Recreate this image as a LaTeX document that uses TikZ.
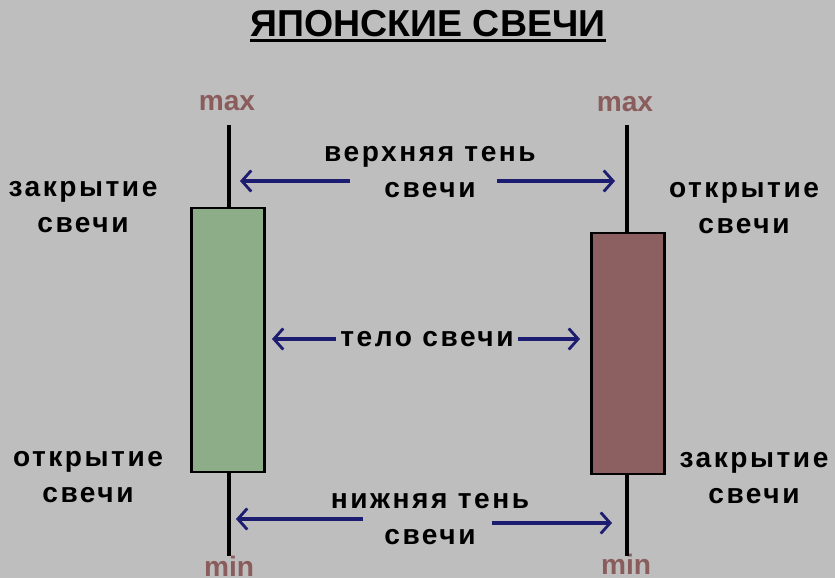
\documentclass[tikz,border=0pt]{standalone}
\usepackage{fontspec}
\setmainfont{Liberation Sans}
\usetikzlibrary{arrows.meta,positioning}
\definecolor{bgGray}{RGB}{190,190,190}
\definecolor{bullGreen}{RGB}{141,173,136}
\definecolor{bearRed}{RGB}{140,96,96}
\definecolor{extColor}{RGB}{138,92,92}
\definecolor{arrowBlue}{RGB}{28,28,112}

\tikzset{
  lbl/.style={font=\bfseries\fontsize{24}{30}\selectfont\addfontfeatures{LetterSpace=9}, align=center, inner sep=0pt},
  ext/.style={font=\bfseries\fontsize{24}{30}\selectfont, text=extColor, inner sep=0pt},
  wick/.style={line width=3.4pt},
  body/.style={draw, line width=2.5pt, inner sep=0pt, minimum width=2.2cm},
  ptr/.style={-{Straight Barb[length=8pt,width=18pt,line width=2.4pt]}, line width=2.6pt, draw=arrowBlue}
}

\begin{document}
\begin{tikzpicture}[x=0.03cm, y=-0.03cm]
\fill[bgGray] (0,0) rectangle (835,578);
\useasboundingbox (0,0) rectangle (835,578);

% title
\node[font=\bfseries\fontsize{32}{36}\selectfont, inner sep=0pt, anchor=base] (title) at (428,36) {ЯПОНСКИЕ СВЕЧИ};
\draw[line width=2.6pt] ([yshift=-3.5pt]title.south west) -- ([yshift=-3.5pt]title.south east);

% left candle
\node[body, fill=bullGreen, minimum height=7.92cm] (bodyL) at (228,340) {};
\node[ext] (maxL) at (227,103) {max};
\node[ext] (minL) at (229,566) {min};
\coordinate (topL) at (229,125);
\coordinate (botL) at (229,556);
\draw[wick] (topL) -- (topL |- bodyL.north);
\draw[wick] (botL |- bodyL.south) -- (botL);

% right candle
\node[body, fill=bearRed, minimum height=7.23cm] (bodyR) at (628,353.5) {};
\node[ext] (maxR) at (625,104) {max};
\node[ext] (minR) at (626,564) {min};
\coordinate (topR) at (627,125);
\coordinate (botR) at (627,556);
\draw[wick] (topR) -- (topR |- bodyR.north);
\draw[wick] (botR |- bodyR.south) -- (botR);

% side labels
\node[lbl] (closeL) at (83,207) {закрытие\\свечи};
\node[lbl] (openL) at (88,477) {открытие\\свечи};
\node[lbl] (openR) at (744,208) {открытие\\свечи};
\node[lbl] (closeR) at (754,478) {закрытие\\свечи};

% middle labels
\node[lbl] (upper) at (430,172) {верхняя тень\\свечи};
\node[lbl] (bodyTxt) at (427,339) {тело свечи};
\node[lbl] (lower) at (430,519) {нижняя тень\\свечи};

% pointers
\coordinate (upA) at (350,181);
\coordinate (upB) at (497,181);
\draw[ptr] (upA) -- (240,181);
\draw[ptr] (upB) -- (615,181);
\draw[ptr] (bodyTxt.west) ++(-4,0) -- (272,339);
\draw[ptr] (bodyTxt.east) ++(4,0) -- (580,339);
\coordinate (loA) at (363,519);
\coordinate (loB) at (492,523);
\draw[ptr] (loA) -- (236,519);
\draw[ptr] (loB) -- (612,523);
\end{tikzpicture}
\end{document}
